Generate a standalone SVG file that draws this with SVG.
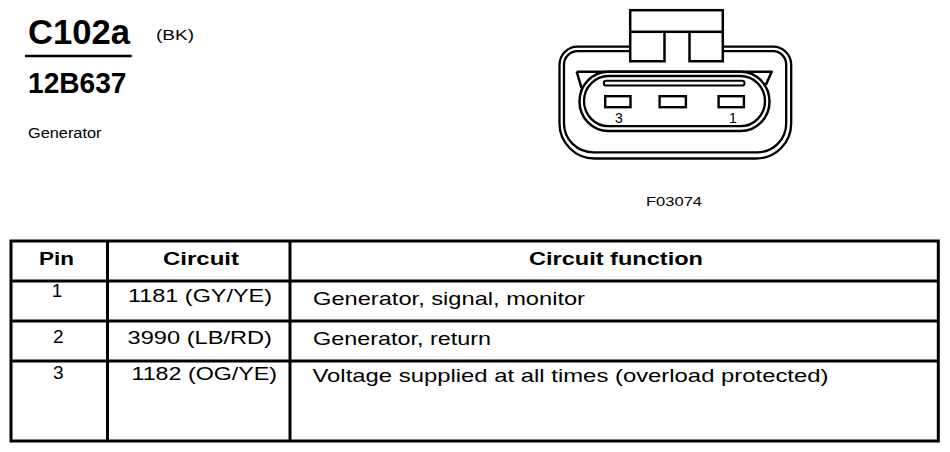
<svg xmlns="http://www.w3.org/2000/svg" width="950" height="452" viewBox="0 0 950 452">
<style>
  text { font-family: "Liberation Sans", Arial, sans-serif; fill: #000; }
  .b { font-weight: bold; }
  .hd { font-size: 18px; font-weight: bold; }
  .row { font-size: 19px; }
  .ln { stroke: #000; fill: none; }
  .tbl { stroke: #000; stroke-width: 3; fill: none; }
</style>
<rect x="0" y="0" width="950" height="452" fill="#fff"/>

<g id="title">
  <text class="b" x="28" y="44" font-size="35" textLength="102" lengthAdjust="spacingAndGlyphs">C102a</text>
  <line class="ln" x1="25" y1="56" x2="131.7" y2="56" stroke-width="2.5"/>
  <text x="156" y="40" font-size="14" textLength="38" lengthAdjust="spacingAndGlyphs">(BK)</text>
  <text class="b" x="28" y="92.7" font-size="29" textLength="98.5" lengthAdjust="spacingAndGlyphs">12B637</text>
  <text x="28" y="138" font-size="14" textLength="73.5" lengthAdjust="spacingAndGlyphs">Generator</text>
</g>

<g id="connector">
  <!-- body double outline -->
  <path class="ln" stroke-width="2.3" d="M630.2,46.7 H577.5 A18,18 0 0 0 559.5,64.7 V123.5 A35,35 0 0 0 594.5,158.5 H756.2 A35,35 0 0 0 791.2,123.5 V64.7 A18,18 0 0 0 773.2,46.7 H722.8"/>
  <path class="ln" stroke-width="2.3" d="M630.2,51.2 H577.5 A13.5,13.5 0 0 0 564,64.7 V123.5 A29.5,28.8 0 0 0 593.5,152.3 H757.2 A29,28.8 0 0 0 786.2,123.5 V64.7 A13,13.5 0 0 0 773.2,51.2 H722.8"/>
  <!-- locking tab -->
  <rect class="ln" stroke-width="2.5" x="630.2" y="10.2" width="92.6" height="21.6"/>
  <path class="ln" stroke-width="2.5" d="M630.2,31.8 V61.2 H664.5 V31.8 M689.5,31.8 V61.2 H722.8 V31.8"/>
  <!-- cavity with ears -->
  <path class="ln" stroke-width="2.5" stroke-linejoin="round" d="M576.7,71.7 H771.7 L765.8,85"/>
  <path class="ln" stroke-width="2.5" d="M576.7,71.7 L581.5,88"/>
  <path class="ln" stroke-width="2.5" d="M608.5,71.7 H740.5 A29,29.7 0 0 1 769.5,101.4 A29,29.7 0 0 1 740.5,131.1 H608.5 A29,29.7 0 0 1 579.5,101.4 A29,29.7 0 0 1 608.5,71.7 Z"/>
  <path class="ln" stroke-width="2.3" d="M608.5,76 H740.5 A24.5,25.1 0 0 1 765,101.1 A24.5,25.1 0 0 1 740.5,126.2 H608.5 A24.5,25.1 0 0 1 584,101.1 A24.5,25.1 0 0 1 608.5,76 Z"/>
  <!-- seal bar -->
  <rect class="ln" stroke-width="2" x="603.8" y="80.8" width="140.7" height="4.8" rx="2.4"/>
  <!-- pin cavities -->
  <rect class="ln" stroke-width="2.4" x="605.2" y="96.2" width="25.3" height="11"/>
  <rect class="ln" stroke-width="2.4" x="659.6" y="96.2" width="26.3" height="11"/>
  <rect class="ln" stroke-width="2.4" x="718.6" y="96.2" width="25.3" height="11"/>
  <text x="619" y="122.5" font-size="14" text-anchor="middle">3</text>
  <text x="733" y="123" font-size="14" text-anchor="middle">1</text>
  <text x="646" y="206" font-size="13.5" textLength="56" lengthAdjust="spacingAndGlyphs">F03074</text>
</g>

<g id="table">
  <rect class="tbl" x="11" y="241" width="927.3" height="200"/>
  <line class="tbl" x1="107.5" y1="241" x2="107.5" y2="441"/>
  <line class="tbl" x1="290" y1="241" x2="290" y2="441"/>
  <line class="tbl" x1="11" y1="281" x2="938.3" y2="281"/>
  <line class="tbl" x1="11" y1="321" x2="938.3" y2="321"/>
  <line class="tbl" x1="11" y1="361" x2="938.3" y2="361"/>

  <text class="hd" x="39" y="265" textLength="35" lengthAdjust="spacingAndGlyphs">Pin</text>
  <text class="hd" x="163" y="265" textLength="76" lengthAdjust="spacingAndGlyphs">Circuit</text>
  <text class="hd" x="529" y="265" textLength="174" lengthAdjust="spacingAndGlyphs">Circuit function</text>

  <text class="row" x="57" y="297" text-anchor="middle">1</text>
  <text class="row" x="128" y="302" textLength="144" lengthAdjust="spacingAndGlyphs">1181 (GY/YE)</text>
  <text class="row" x="313" y="305" textLength="272" lengthAdjust="spacingAndGlyphs">Generator, signal, monitor</text>

  <text class="row" x="58.3" y="343" text-anchor="middle">2</text>
  <text class="row" x="127.5" y="343.5" textLength="144.5" lengthAdjust="spacingAndGlyphs">3990 (LB/RD)</text>
  <text class="row" x="313" y="345" textLength="178" lengthAdjust="spacingAndGlyphs">Generator, return</text>

  <text class="row" x="58.3" y="378.5" text-anchor="middle">3</text>
  <text class="row" x="131.5" y="380" textLength="145.5" lengthAdjust="spacingAndGlyphs">1182 (OG/YE)</text>
  <text class="row" x="312.5" y="381.5" textLength="516" lengthAdjust="spacingAndGlyphs">Voltage supplied at all times (overload protected)</text>
</g>
</svg>
